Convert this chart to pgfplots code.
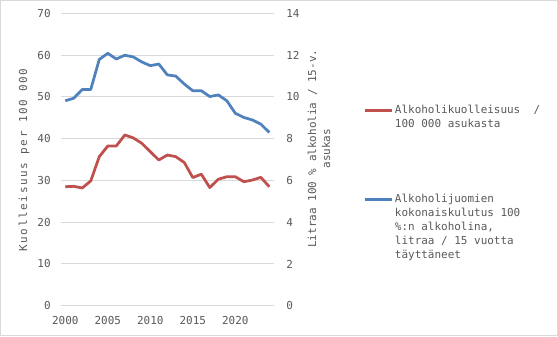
\documentclass[border=0pt]{standalone}
\usepackage{pgfplots}
\pgfplotsset{compat=1.18}
\usepackage{fontspec}
\setmainfont{DejaVu Sans Mono}
\definecolor{redl}{RGB}{192,80,77}
\definecolor{bluel}{RGB}{79,129,189}
\definecolor{txt}{RGB}{89,89,89}
\definecolor{gridc}{RGB}{217,217,217}
\definecolor{framec}{RGB}{217,217,217}
\begin{document}
\fontsize{11}{14}\selectfont
\begin{tikzpicture}[x=1bp,y=1bp]
\useasboundingbox (-61,-30.3) rectangle (497,305.7);
\draw[framec, line width=1bp] (-60.5,-29.8) rectangle (496.5,305.2);
\pgfplotsset{
  every axis/.append style={
    at={(0,0)}, anchor=south west, scale only axis,
    width=213bp, height=292.2bp,
    xmin=1999.5, xmax=2024.55,
    axis line style={draw=none},
    major tick length=0pt,
    tick label style={font=\fontsize{11}{14}\selectfont, text=txt},
    /pgf/number format/assume math mode=true,
    /pgf/number format/1000 sep={},
  }
}
\begin{axis}[
  ymin=0, ymax=70, ytick={0,10,...,70},
  xtick={2000,2005,...,2020},
  ymajorgrids, major grid style={gridc, line width=1bp},
  yticklabel style={anchor=east, xshift=-6.5bp},
  xticklabel style={anchor=north, yshift=-6.5bp},
  axis y line*=left, axis x line*=bottom,
]
\addplot[redl, line width=2.75bp, line join=round] coordinates {
(2000,28.5) (2001,28.6) (2002,28.2) (2003,29.9) (2004,35.7) (2005,38.25)
(2006,38.25) (2007,40.9) (2008,40.2) (2009,38.9) (2010,36.9) (2011,34.9)
(2012,36.1) (2013,35.7) (2014,34.3) (2015,30.7) (2016,31.5) (2017,28.3)
(2018,30.3) (2019,30.9) (2020,30.9) (2021,29.7) (2022,30.1) (2023,30.75)
(2024,28.5)};
\end{axis}
\begin{axis}[
  ymin=0, ymax=14, ytick={0,2,...,14},
  axis y line*=right, axis x line=none,
  yticklabel style={anchor=west, xshift=8.5bp},
  legend cell align=left,
  legend style={at={(1.418,0.693)}, anchor=north west, draw=none, fill=none,
    inner sep=0pt, row sep=61bp, text=txt,
    font=\fontsize{11}{14}\selectfont,
    cells={align=left}},
  legend image code/.code={\draw[#1] (0bp,0bp) -- (27bp,0bp);},
]
\addplot[bluel, line width=2.75bp, line join=round, forget plot] coordinates {
(2000,9.82) (2001,9.94) (2002,10.36) (2003,10.36) (2004,11.8) (2005,12.09)
(2006,11.82) (2007,12.0) (2008,11.92) (2009,11.68) (2010,11.5) (2011,11.58)
(2012,11.06) (2013,11.0) (2014,10.62) (2015,10.3) (2016,10.3) (2017,10.02)
(2018,10.1) (2019,9.82) (2020,9.22) (2021,9.02) (2022,8.9) (2023,8.7)
(2024,8.3)};
\addlegendimage{redl, line width=2.75bp, yshift=7bp}
\addlegendentry{Alkoholikuolleisuus~ /\\100 000 asukasta}
\addlegendimage{bluel, line width=2.75bp, yshift=28bp}
\addlegendentry{Alkoholijuomien\\kokonaiskulutus 100\\\%:n alkoholina,\\litraa / 15 vuotta\\täyttäneet}
\end{axis}
\node[rotate=90, text=txt, font=\addfontfeature{LetterSpace=15}] at (-37,145.7) {Kuolleisuus per 100 000};
\node[rotate=90, text=txt, align=center, inner sep=0pt] at (258,157) {Litraa 100 \% alkoholia / 15-v.\\asukas};
\end{tikzpicture}
\end{document}
